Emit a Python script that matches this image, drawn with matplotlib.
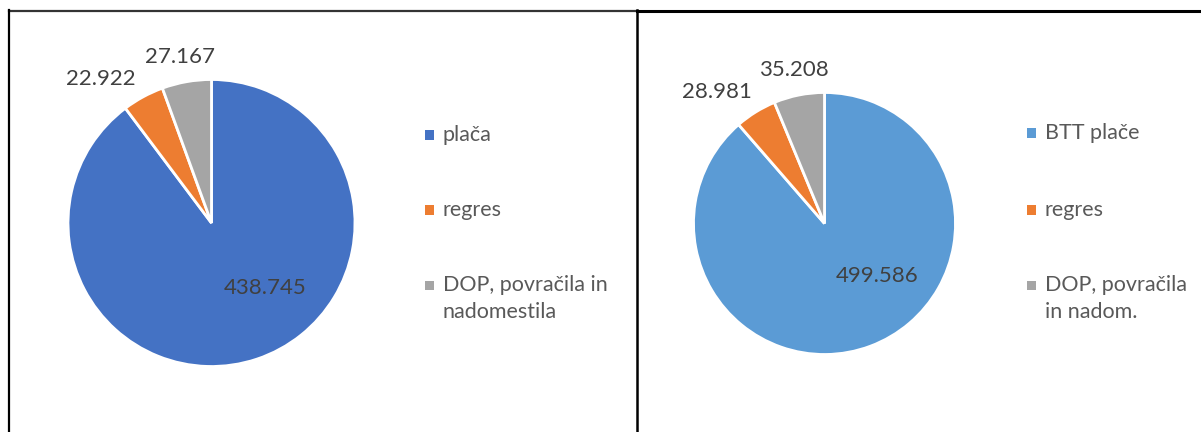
import matplotlib
matplotlib.use("Agg")
import matplotlib.pyplot as plt
from matplotlib.lines import Line2D
from matplotlib.patches import Rectangle
import numpy as np

# ---- data ----
left_labels = ["plača", "regres", "DOP, povračila in\nnadomestila"]
left_values = [438.745, 22.922, 27.167]
left_texts = ["438.745", "22.922", "27.167"]

right_labels = ["BTT plače", "regres", "DOP, povračila\nin nadom."]
right_values = [499.586, 28.981, 35.208]
right_texts = ["499.586", "28.981", "35.208"]

left_colors = ["#4472C4", "#ED7D31", "#A5A5A5"]
right_colors = ["#5B9BD5", "#ED7D31", "#A5A5A5"]

W, H = 1201, 432
plt.rcParams['font.family'] = ['Lato', 'DejaVu Sans']
LBL = "#404040"
TXT = "#595959"
FS_LBL = 16
FS_LEG = 15.5

fig = plt.figure(figsize=(W / 100, H / 100), dpi=100)
fig.patch.set_facecolor("white")


def px_axes(cx, cy, r):
    return fig.add_axes([(cx - r) / W, (H - cy - r) / H, 2 * r / W, 2 * r / H])


def draw_pie(cx, cy, r, values, colors, texts, label_pos):
    ax = px_axes(cx, cy, r)
    ax.pie(values, colors=colors, startangle=90, counterclock=False,
           radius=1.0, wedgeprops=dict(edgecolor="white", linewidth=2))
    ax.set_xlim(-1, 1)
    ax.set_ylim(-1, 1)
    ax.set_aspect("equal")
    ax.axis("off")
    for t, (rf, ang) in zip(texts, label_pos):
        a = np.deg2rad(ang)
        ax.text(rf * np.cos(a), rf * np.sin(a), t, ha="center", va="center",
                fontsize=FS_LBL, color=LBL, clip_on=False)
    return ax


def draw_legend(x_marker, ys, labels, colors):
    for y, lab, c in zip(ys, labels, colors):
        fig.add_artist(Rectangle((x_marker / W, (H - y - 4.5) / H), 9 / W, 9 / H,
                                 transform=fig.transFigure, facecolor=c, edgecolor="none"))
        fig.text((x_marker + 18) / W, (H - y + 10) / H, lab, ha="left", va="top",
                 fontsize=FS_LEG, color=TXT, linespacing=1.45)


draw_pie(211.5, 223, 143.5, left_values, left_colors, left_texts,
         [(0.59, -50.5), (1.265, 127.5), (1.18, 100.7)])
draw_pie(824.5, 223.5, 131, right_values, right_colors, right_texts,
         [(0.57, -45), (1.30, 129.3), (1.195, 101.2)])

draw_legend(425, [135, 210, 285], left_labels, left_colors)
draw_legend(1027, [133, 210, 285], right_labels, right_colors)


# ---- frames ----
def hline(x0, x1, y, c="black", lw=2):
    fig.add_artist(Line2D([x0 / W, x1 / W], [(H - y) / H, (H - y) / H], color=c, lw=lw,
                          transform=fig.transFigure))


def vline(x, y0, y1, c="black", lw=2):
    fig.add_artist(Line2D([x / W, x / W], [(H - y0) / H, (H - y1) / H], color=c, lw=lw,
                          transform=fig.transFigure))


hline(9, 637, 10.5, c="#333333", lw=1.6)
vline(9, 10, 440, lw=1.6)
vline(637, 10, 440, lw=1.8)
hline(637, 1210, 11, lw=2.2)

fig.savefig("out.png", dpi=100, facecolor="white")
